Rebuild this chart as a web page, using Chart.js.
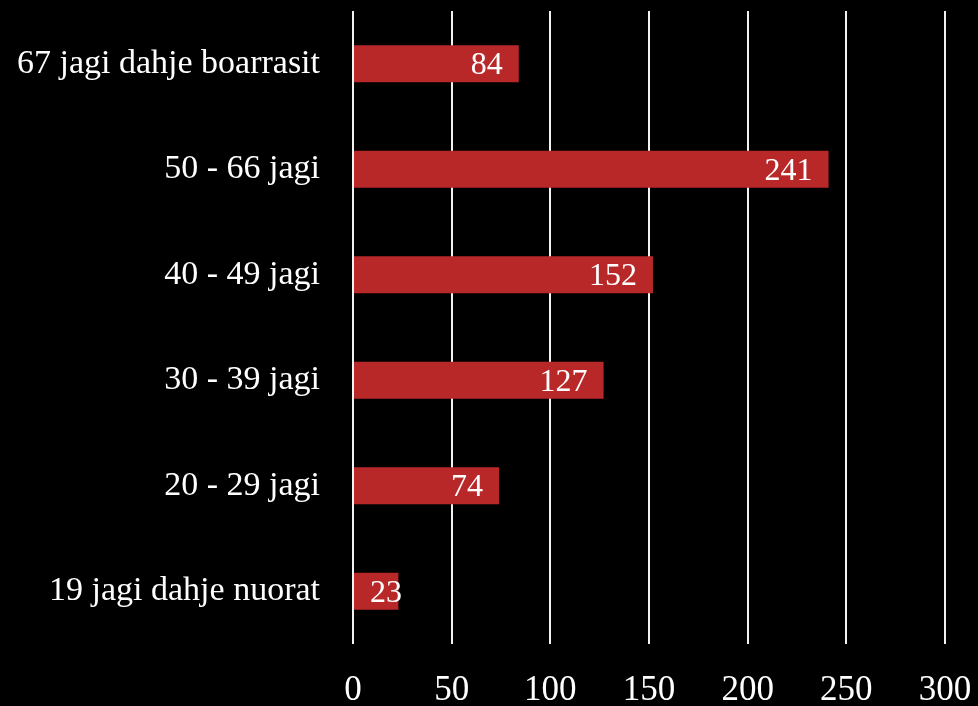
<!DOCTYPE html>
<html>
<head>
<meta charset="utf-8">
<script src="https://cdn.jsdelivr.net/npm/chart.js@4/dist/chart.umd.min.js"></script>
<style>
html,body{margin:0;padding:0;background:#000;}
#wrap{width:978px;height:706px;position:relative;}
</style>
</head>
<body>
<div id="wrap"><canvas id="c" width="978" height="706"></canvas></div>
<script>
const categories = ["67 jagi dahje boarrasit","50 - 66 jagi","40 - 49 jagi","30 - 39 jagi","20 - 29 jagi","19 jagi dahje nuorat"];
const values = [84, 241, 152, 127, 74, 23];
const tickValues = [0, 50, 100, 150, 200, 250, 300];

const FONT = "'Liberation Serif', 'DejaVu Serif', serif";

const labelPlugin = {
  id: 'barLabels',
  afterDatasetsDraw(chart) {
    const ctx = chart.ctx;
    const meta = chart.getDatasetMeta(0);
    const xScale = chart.scales.x;
    const base = xScale.getPixelForValue(0);
    ctx.save();
    ctx.font = "32px " + FONT;
    ctx.fillStyle = '#ffffff';
    ctx.textBaseline = 'middle';
    ctx.textAlign = 'left';
    meta.data.forEach((bar, i) => {
      const txt = String(values[i]);
      const w = ctx.measureText(txt).width;
      let left = bar.x - 16 - w;
      if (left < base + 17) left = base + 17;
      ctx.fillText(txt, left, bar.y + 2);
    });
    ctx.restore();
  }
};

new Chart(document.getElementById('c'), {
  type: 'bar',
  data: {
    labels: categories,
    datasets: [{
      data: values,
      backgroundColor: '#b82828',
      borderWidth: 0,
      categoryPercentage: 1,
      barPercentage: 0.35
    }]
  },
  options: {
    indexAxis: 'y',
    responsive: false,
    animation: false,
    devicePixelRatio: 1,
    layout: { padding: { top: 11, right: 33, left: 0, bottom: 0 } },
    plugins: { legend: { display: false }, tooltip: { enabled: false } },
    scales: {
      x: {
        min: 0, max: 300,
        afterBuildTicks(axis) { axis.ticks = tickValues.map(v => ({ value: v })); },
        afterFit(s) { s.height = 62; s.paddingLeft = 0; s.paddingRight = 0; },
        grid: { color: '#f2f2f2', lineWidth: 2, drawTicks: false },
        border: { display: false },
        ticks: { color: '#ffffff', font: { family: FONT, size: 35 }, padding: 26, maxRotation: 0 }
      },
      y: {
        afterFit(s) { s.width = 353; s.paddingTop = 0; s.paddingBottom = 0; },
        grid: { display: true, drawOnChartArea: false, drawTicks: true, tickLength: 33, color: 'rgba(0,0,0,0)', tickColor: 'rgba(0,0,0,0)' },
        border: { display: false },
        ticks: { color: '#ffffff', font: { family: FONT, size: 34 }, padding: 0 }
      }
    }
  },
  plugins: [labelPlugin]
});
</script>
</body>
</html>
